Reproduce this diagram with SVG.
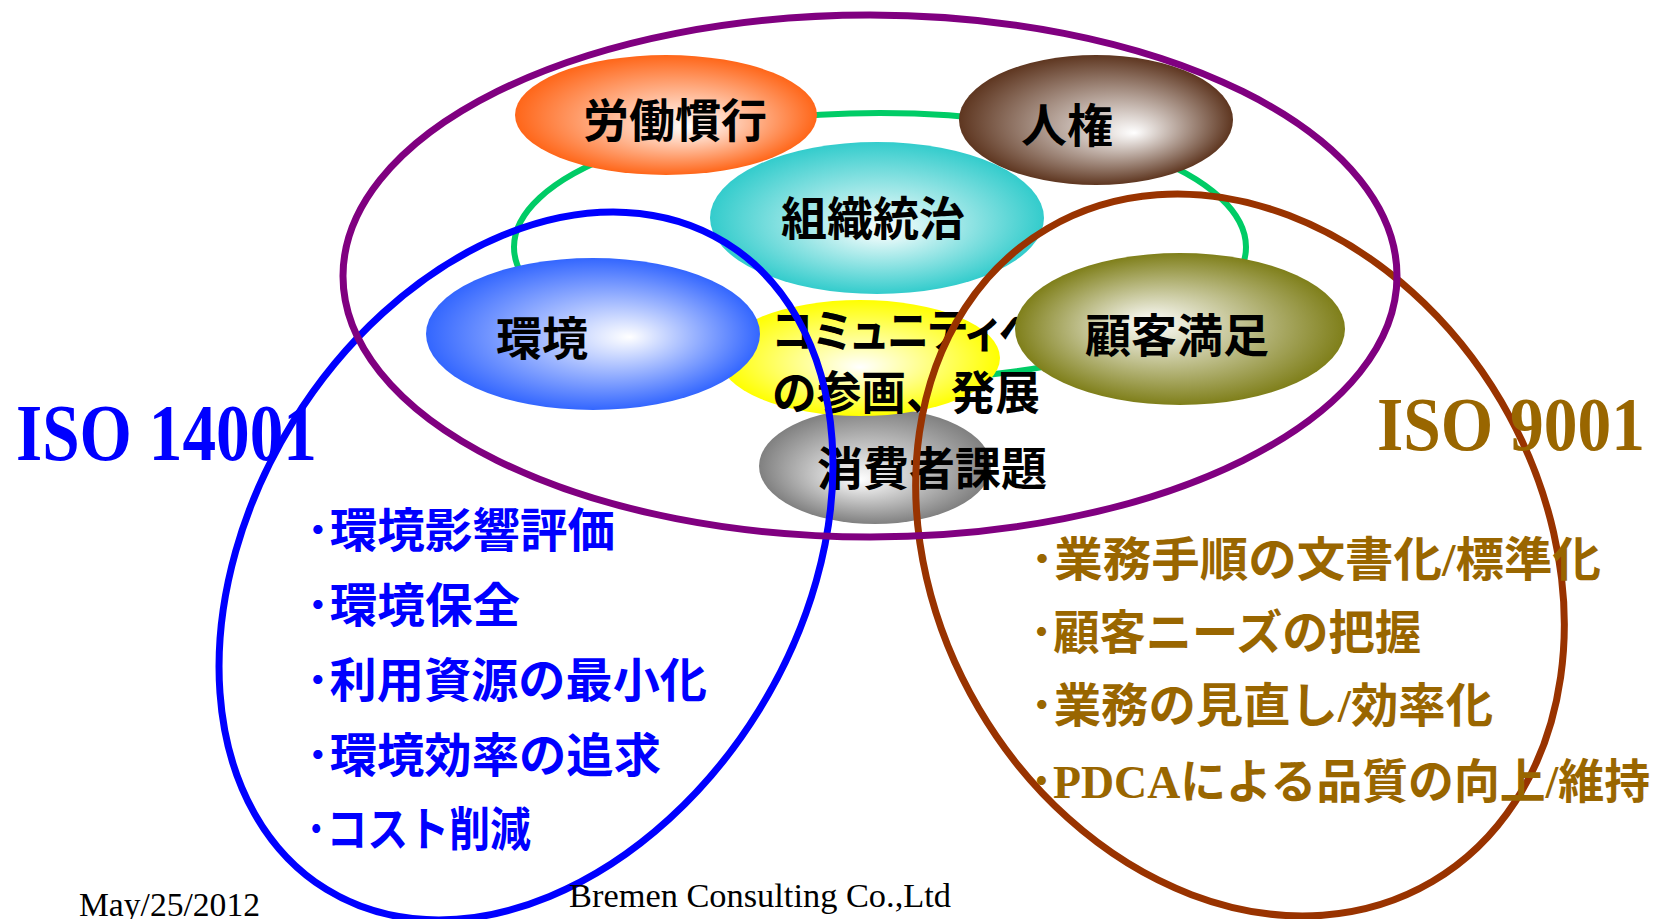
<svg xmlns="http://www.w3.org/2000/svg" width="1657" height="919" viewBox="0 0 1657 919">
<style>
.node{font-family:"Noto Sans CJK JP",sans-serif;font-weight:700;font-size:46px;fill:#000}
.palt{font-feature-settings:"palt"}
.iso{font-family:"Liberation Serif","Times New Roman",serif;font-weight:700}
.bl{font-family:"Liberation Serif","Noto Sans CJK JP",serif;font-weight:700;font-size:47px;fill:#0000FF}
.br{font-family:"Liberation Serif","Noto Sans CJK JP",serif;font-weight:700;font-size:47px;fill:#996600}
.foot{font-family:"Liberation Serif","Times New Roman",serif;font-size:34px;fill:#000}
.ring{fill:none}
</style>
<defs>
<radialGradient id="gO" cx="0.5" cy="0.5" r="0.5" fx="0.59" fy="0.6"><stop offset="0" stop-color="#fff"/><stop offset="1" stop-color="#FF6619"/></radialGradient>
<radialGradient id="gBr" cx="0.5" cy="0.5" r="0.5" fx="0.64" fy="0.6"><stop offset="0" stop-color="#fff"/><stop offset="1" stop-color="#5E3620"/></radialGradient>
<radialGradient id="gT" cx="0.5" cy="0.5" r="0.5" fx="0.52" fy="0.58"><stop offset="0" stop-color="#fff"/><stop offset="1" stop-color="#33CCCC"/></radialGradient>
<radialGradient id="gY" cx="0.5" cy="0.5" r="0.5" fx="0.5" fy="0.58"><stop offset="0" stop-color="#fff"/><stop offset="1" stop-color="#FFFF00"/></radialGradient>
<radialGradient id="gB" cx="0.5" cy="0.5" r="0.5" fx="0.61" fy="0.52"><stop offset="0" stop-color="#fff"/><stop offset="1" stop-color="#3366FF"/></radialGradient>
<radialGradient id="gOl" cx="0.5" cy="0.5" r="0.5" fx="0.4" fy="0.46"><stop offset="0" stop-color="#fff"/><stop offset="1" stop-color="#7F7F1A"/></radialGradient>
<radialGradient id="gG" cx="0.5" cy="0.5" r="0.5" fx="0.43" fy="0.62"><stop offset="0" stop-color="#fff"/><stop offset="1" stop-color="#808080"/></radialGradient>
</defs>
<rect width="1657" height="919" fill="#fff"/>

<g id="connectors">
<ellipse class="ring" cx="880" cy="247" rx="366" ry="134" stroke="#00CC66" stroke-width="6"/>
</g>

<g id="node-roudou">
<ellipse cx="666" cy="115" rx="151" ry="60" fill="url(#gO)"/>
<text class="node" x="675" y="137" text-anchor="middle">労働慣行</text>
</g>
<g id="node-jinken">
<ellipse cx="1096" cy="120" rx="137" ry="65" fill="url(#gBr)"/>
<text class="node" x="1067" y="142" text-anchor="middle">人権</text>
</g>
<g id="node-soshiki">
<ellipse cx="877" cy="218" rx="167" ry="76" fill="url(#gT)"/>
<text class="node" x="873" y="235" text-anchor="middle">組織統治</text>
</g>
<g id="node-shohisha">
<ellipse cx="875" cy="466" rx="116" ry="58" fill="url(#gG)"/>
</g>
<g id="node-community">
<ellipse cx="860" cy="358" rx="140" ry="58" fill="url(#gY)"/>
<text class="node palt" x="772" y="347" textLength="268" lengthAdjust="spacingAndGlyphs">コミュニティへ</text>
<text class="node" x="772" y="409" textLength="268" lengthAdjust="spacingAndGlyphs">の参画、発展</text>
</g>
<g id="node-kankyo">
<ellipse cx="593" cy="334" rx="167" ry="76" fill="url(#gB)"/>
<text class="node" x="542" y="355" text-anchor="middle">環境</text>
</g>
<g id="node-kokyaku">
<ellipse cx="1180" cy="329" rx="165" ry="76" fill="url(#gOl)"/>
<text class="node" x="1177" y="352" text-anchor="middle">顧客満足</text>
</g>
<g id="node-shohisha-label">
<text class="node" x="932" y="485" text-anchor="middle">消費者課題</text>
</g>

<g id="iso14001">
<ellipse class="ring" cx="526" cy="566" rx="380" ry="274" transform="rotate(-58.3 526 566)" stroke="#0000FF" stroke-width="7"/>
<text class="iso" x="16" y="460" font-size="80" fill="#0000FF" textLength="301" lengthAdjust="spacingAndGlyphs">ISO 14001</text>
<text class="bl" x="306" y="547" textLength="309" lengthAdjust="spacingAndGlyphs">･環境影響評価</text>
<text class="bl" x="306" y="622" textLength="214" lengthAdjust="spacingAndGlyphs">･環境保全</text>
<text class="bl" x="306" y="697" textLength="401" lengthAdjust="spacingAndGlyphs">･利用資源の最小化</text>
<text class="bl" x="306" y="772" textLength="355" lengthAdjust="spacingAndGlyphs">･環境効率の追求</text>
<text class="bl" x="306" y="846" textLength="225" lengthAdjust="spacingAndGlyphs">･コスト削減</text>
</g>

<g id="iso9001">
<ellipse class="ring" cx="1240" cy="555" rx="379" ry="303" transform="rotate(59.5 1240 555)" stroke="#993300" stroke-width="7"/>
<text class="iso" x="1377" y="450" font-size="76" fill="#996600" textLength="268" lengthAdjust="spacingAndGlyphs">ISO 9001</text>
<text class="br" x="1030" y="576" textLength="571" lengthAdjust="spacingAndGlyphs">･業務手順の文書化/標準化</text>
<text class="br" x="1030" y="649" textLength="391" lengthAdjust="spacingAndGlyphs">･顧客ニーズの把握</text>
<text class="br" x="1030" y="722" textLength="463" lengthAdjust="spacingAndGlyphs">･業務の見直し/効率化</text>
<text class="br" x="1030" y="798" textLength="620" lengthAdjust="spacingAndGlyphs">･PDCAによる品質の向上/維持</text>
</g>

<g id="iso26000">
<ellipse class="ring" cx="870" cy="276" rx="527" ry="261" stroke="#800080" stroke-width="7"/>
</g>

<g id="footer">
<text class="foot" x="79" y="916" textLength="181" lengthAdjust="spacingAndGlyphs">May/25/2012</text>
<text class="foot" x="569" y="907" textLength="382" lengthAdjust="spacingAndGlyphs">Bremen Consulting Co.,Ltd</text>
</g>
</svg>
